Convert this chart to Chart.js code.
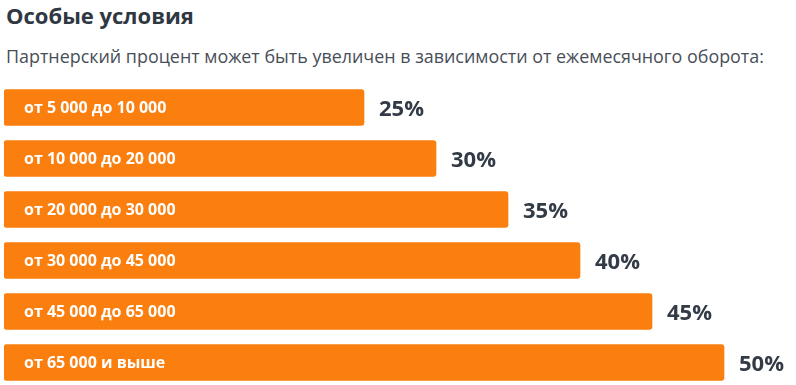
<!DOCTYPE html>
<html lang="ru">
<head>
<meta charset="utf-8">
<script src="https://cdn.jsdelivr.net/npm/chart.js@4.4.0/dist/chart.umd.min.js"></script>
<style>
  html, body { margin: 0; padding: 0; background: #fff; overflow: hidden; }
  body { width: 796px; height: 385px; position: relative; font-family: "Open Sans", sans-serif; }
  .title { position: absolute; left: 6px; top: 0px; font-size: 22px; font-weight: 700; color: #2f3742; }
  .subtitle { position: absolute; left: 6px; top: 44px; font-size: 17.9px; color: #474e57; }
  .chart-wrap { position: absolute; left: 0; top: 82px; width: 796px; height: 306px; }
</style>
</head>
<body>
<div class="title">Особые условия</div>
<div class="subtitle">Партнерский процент может быть увеличен в зависимости от ежемесячного оборота:</div>
<div class="chart-wrap"><canvas id="chart"></canvas></div>

<script>
// turnover ranges and partner percent
const ranges = ['от 5 000 до 10 000', 'от 10 000 до 20 000', 'от 20 000 до 30 000',
                'от 30 000 до 45 000', 'от 45 000 до 65 000', 'от 65 000 и выше'];
const percents = [25, 30, 35, 40, 45, 50];

const ORANGE = '#fa7f0f';
const DARK = '#333b46';

// draws range text inside each bar and the percent after it
const barLabels = {
  id: 'barLabels',
  afterDatasetsDraw(chart) {
    const ctx = chart.ctx;
    const meta = chart.getDatasetMeta(0);
    ctx.save();
    ctx.textBaseline = 'middle';
    meta.data.forEach((bar, i) => {
      ctx.fillStyle = '#fff';
      ctx.font = 'bold 16px "Open Sans"';
      ctx.textAlign = 'left';
      ctx.fillText(ranges[i], bar.base + 20, bar.y + 1);
      ctx.fillStyle = DARK;
      ctx.font = 'bold 22px "Open Sans"';
      ctx.fillText(percents[i] + '%', bar.x + 15, bar.y + 2);
    });
    ctx.restore();
  }
};

new Chart(document.getElementById('chart'), {
  type: 'bar',
  data: {
    labels: ranges,
    datasets: [{
      data: percents,
      backgroundColor: ORANGE,
      borderRadius: 3,
      borderSkipped: false,
      barThickness: 36
    }]
  },
  options: {
    indexAxis: 'y',
    responsive: true, maintainAspectRatio: false,
    animation: false,
    layout: { padding: { left: 4, right: 14.4, top: 0, bottom: 0 } },
    plugins: { legend: { display: false }, tooltip: { enabled: false } },
    scales: {
      x: { display: false, min: 0, max: 54 },
      y: { display: false }
    }
  },
  plugins: [barLabels]
});
</script>
</body>
</html>
